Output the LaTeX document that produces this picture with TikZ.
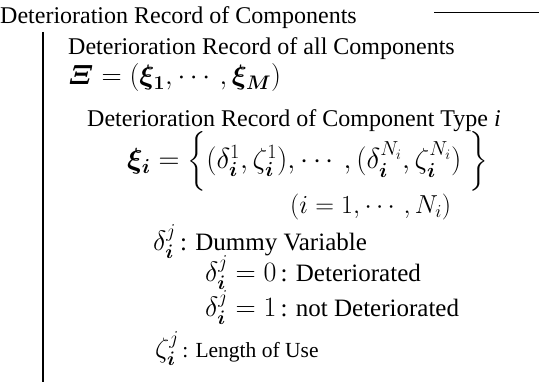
\documentclass[tikz,border=0pt]{standalone}
\usepackage{fix-cm}
\usepackage{amsmath,bm}
\usepackage[no-math]{fontspec}
\setmainfont{Liberation Serif}
\newcommand{\bigmath}[2][28]{{\fontsize{#1}{32}\selectfont$#2$}}

\begin{document}
\begin{tikzpicture}[x=1pt, y=-1pt, inner sep=0pt,
    txt/.style={anchor=base west, font=\fontsize{24}{28}\selectfont},
    desc/.style={anchor=base west, font=\fontsize{25}{28}\selectfont}]
  \useasboundingbox (0, 0) rectangle (539, 382);

  % frame lines
  \coordinate (hl) at (434, 13);
  \coordinate (hr) at (539, 13);
  \coordinate (vt) at (43, 32);
  \coordinate (vb) at (43, 382);
  \draw[line width=1pt] (hl) -- (hr);
  \draw[line width=1.5pt] (vt) -- (vb);

  \node[txt] (title) at (0, 24) {Deterioration Record of Components};
  \node[txt] (allrec) at (68, 55) {Deterioration Record of all Components};
  \node[txt] (Xi) at (68, 85) {\bigmath{\bm{\varXi} = (\bm{\xi_1}, \cdots, \bm{\xi_M})}};
  \node[txt] (typerec) at (87, 127) {Deterioration Record of Component Type \textit{i}};
  \node[txt] (xii) at (127, 169)
    {\bigmath[29]{\bm{\xi_i} = \Bigl\{ (\delta^1_{\bm i}, \zeta^1_{\bm i}), \cdots, (\delta^{N_i}_{\bm i}, \zeta^{N_i}_{\bm i}) \;\Bigr\}}};
  \node[txt] (range) at (290, 214) {\bigmath[26]{(i = 1, \cdots, N_i)}};

  \node[desc] (dummy) at (153, 251) {\bigmath{\delta^j_{\bm i}}\,: Dummy Variable};
  \node[desc] (det) at (205, 282) {\bigmath{\delta^j_{\bm i} = 0}\,: Deteriorated};
  \node[desc] (notdet) at (205, 317) {\bigmath{\delta^j_{\bm i} = 1}\,: not Deteriorated};
  \node[desc, font=\fontsize{21.5}{26}\selectfont] (use) at (155, 358) {\bigmath{\zeta^j_{\bm i}}\,: Length of Use};
\end{tikzpicture}
\end{document}
